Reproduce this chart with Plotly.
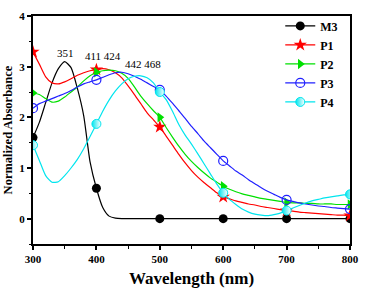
import plotly.graph_objects as go

wavelength = list(range(300, 801, 10))

m3 = [1.60, 1.90, 2.29, 2.68, 2.96, 3.10, 2.98, 2.57, 2.03, 1.12,
      0.60, 0.22, 0.05, 0.01] + [0.0] * 37

p1 = [3.29, 3.05, 2.80, 2.68, 2.66, 2.70, 2.76, 2.83, 2.88, 2.92,
      2.94, 2.96, 2.94, 2.88, 2.78, 2.62, 2.45, 2.27, 2.09, 1.95,
      1.81, 1.63, 1.45, 1.27, 1.10, 0.95, 0.82, 0.71, 0.61, 0.51,
      0.43, 0.39, 0.35, 0.32, 0.29, 0.27, 0.24, 0.22, 0.20, 0.18,
      0.16, 0.15, 0.13, 0.12, 0.11, 0.10, 0.09, 0.08, 0.07, 0.07, 0.06]

p2 = [2.48, 2.45, 2.37, 2.30, 2.32, 2.40, 2.50, 2.60, 2.72, 2.82,
      2.89, 2.92, 2.93, 2.92, 2.87, 2.77, 2.60, 2.42, 2.27, 2.13,
      2.00, 1.80, 1.61, 1.43, 1.27, 1.13, 1.01, 0.90, 0.80, 0.72,
      0.64, 0.58, 0.53, 0.49, 0.46, 0.43, 0.40, 0.38, 0.36, 0.34,
      0.32, 0.31, 0.31, 0.30, 0.30, 0.29, 0.29, 0.29, 0.28, 0.28, 0.28]

p3 = [2.18, 2.27, 2.32, 2.37, 2.42, 2.47, 2.53, 2.60, 2.66, 2.70,
      2.74, 2.79, 2.84, 2.88, 2.89, 2.86, 2.81, 2.75, 2.68, 2.61,
      2.54, 2.42, 2.28, 2.13, 1.98, 1.82, 1.68, 1.53, 1.40, 1.27,
      1.14, 1.04, 0.94, 0.86, 0.77, 0.69, 0.61, 0.54, 0.48, 0.42,
      0.37, 0.34, 0.31, 0.29, 0.27, 0.25, 0.24, 0.22, 0.21, 0.20, 0.19]

p4 = [1.45, 1.15, 0.85, 0.72, 0.73, 0.85, 1.00, 1.17, 1.38, 1.62,
      1.87, 2.12, 2.34, 2.52, 2.66, 2.76, 2.81, 2.82, 2.78, 2.68,
      2.50, 2.35, 2.12, 1.86, 1.65, 1.47, 1.28, 1.08, 0.88, 0.68,
      0.51, 0.38, 0.28, 0.19, 0.13, 0.09, 0.07, 0.06, 0.08, 0.11,
      0.16, 0.21, 0.26, 0.31, 0.35, 0.38, 0.41, 0.43, 0.45, 0.47, 0.48]

names = ["M3", "P1", "P2", "P3", "P4"]
series = [m3, p1, p2, p3, p4]
colors = ["#000000", "#ff0000", "#00e000", "#2020ff", "#00e5ee"]

peak_labels = ["351", "411 424", "442 468"]
peak_label_x = [351, 410, 473]
peak_label_y = [3.27, 3.22, 3.06]

SERIF = "Liberation Serif, Times New Roman, serif"

marker_styles = [
    dict(symbol="circle", size=9, color="#000000"),
    dict(symbol="star", size=10, color="#ff0000"),
    dict(symbol="triangle-right", size=9, color="#00e000"),
    dict(symbol="circle-open", size=9, color="#2020ff", line=dict(width=1.2)),
    dict(symbol="circle", size=9, color="#00e5ee",
         gradient=dict(type="horizontal", color="white"),
         line=dict(width=1, color="#00e5ee")),
]

fig = go.Figure()
for name, vals, col, ms in zip(names, series, colors, marker_styles):
    fig.add_trace(go.Scatter(x=wavelength, y=vals, mode="lines",
                             line=dict(color=col, width=1.2, shape="spline", smoothing=0.6),
                             showlegend=False, hoverinfo="skip"))
    mx = [w for w in wavelength if w % 100 == 0]
    my = [v for w, v in zip(wavelength, vals) if w % 100 == 0]
    fig.add_trace(go.Scatter(x=mx, y=my, mode="markers", marker=ms,
                             showlegend=False))
    fig.add_trace(go.Scatter(x=[None], y=[None], mode="lines+markers", name=name,
                             line=dict(color=col, width=1.2), marker=ms))

for t, x, y in zip(peak_labels, peak_label_x, peak_label_y):
    fig.add_annotation(x=x, y=y, text=t, showarrow=False,
                       font=dict(family=SERIF, size=11, color="black"))

axis_common = dict(showline=True, linecolor="black", linewidth=2, mirror=True,
                   showgrid=False, zeroline=False, ticks="outside", ticklen=4,
                   tickwidth=1.5, tickcolor="black", automargin=False,
                   tickfont=dict(family=SERIF, size=11, color="black", weight="bold"))

fig.update_xaxes(range=[300, 800], dtick=100,
                 minor=dict(ticks="outside", ticklen=2.5, dtick=50, tickcolor="black", tickwidth=1.2),
                 title=dict(text="Wavelength (nm)", standoff=8,
                            font=dict(family=SERIF, size=17, color="black", weight="bold")),
                 **axis_common)
fig.update_yaxes(range=[-0.5, 4], tickvals=[0, 1, 2, 3, 4],
                 minor=dict(ticks="outside", ticklen=2.5, tickvals=[-0.5, 0.5, 1.5, 2.5, 3.5], tickcolor="black", tickwidth=1.2),
                 title=dict(text="Normalized Absorbance", standoff=4,
                            font=dict(family=SERIF, size=12.5, color="black", weight="bold")),
                 **axis_common)

fig.update_layout(
    width=365, height=298,
    margin=dict(l=33, r=15, t=11, b=54),
    plot_bgcolor="white", paper_bgcolor="white",
    legend=dict(x=0.78, y=1.02, xanchor="left", yanchor="top",
                bgcolor="rgba(0,0,0,0)", borderwidth=0,
                font=dict(family=SERIF, size=12, color="black", weight="bold"),
                tracegroupgap=0, itemwidth=30),
)

fig.write_html("out.html", config={"displayModeBar": False},
               post_script="document.body.style.margin='0';document.body.style.overflow='hidden';")
